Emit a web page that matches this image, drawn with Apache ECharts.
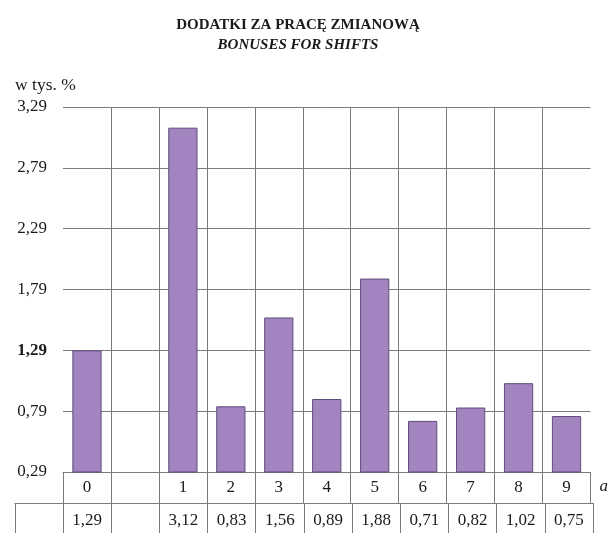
<!DOCTYPE html>
<html>
<head>
<meta charset="utf-8">
<script src="https://cdn.jsdelivr.net/npm/echarts@6/dist/echarts.min.js"></script>
<style>
  html, body { margin: 0; padding: 0; background: #fff; }
  #chart { width: 611px; height: 533px; }
</style>
</head>
<body>
<div id="chart"></div>
<script>
const categories = ['0', '', '1', '2', '3', '4', '5', '6', '7', '8', '9']
const values = [1.29, null, 3.12, 0.83, 1.56, 0.89, 1.88, 0.71, 0.82, 1.02, 0.75]
const yTicks = [0.29, 0.79, 1.29, 1.79, 2.29, 2.79, 3.29]

const fmt = (v) => (v == null ? '' : v.toFixed(2).replace('.', ','))
// second table row: empty header cell + one cell per category
const rowLabels = [''].concat(values.map(fmt))

const serif = 'Liberation Serif'
const ink = '#1a1a1a'
const gridColor = '#7a7a7a'
const fs = 17

const colW = 530 / categories.length

const chart = echarts.init(document.getElementById('chart'))
chart.setOption({
  animation: false,
  textStyle: { fontFamily: serif, color: ink },
  title: {
    text: 'DODATKI ZA PRACĘ ZMIANOWĄ',
    subtext: 'BONUSES FOR SHIFTS',
    left: 293,
    top: 13,
    textAlign: 'center',
    itemGap: 5,
    textStyle: { fontFamily: serif, fontSize: 15, fontWeight: 'bold', color: ink },
    subtextStyle: { fontFamily: serif, fontSize: 15, fontWeight: 'bold', fontStyle: 'italic', color: ink }
  },
  grid: [
    { left: 63, right: 18, top: 107, bottom: 61 },
    { left: 63 - colW, right: 18, top: 503, bottom: 0 }
  ],
  xAxis: [
    {
      type: 'category',
      gridIndex: 0,
      data: categories,
      name: 'a',
      nameLocation: 'end',
      nameGap: 9,
      nameTextStyle: { fontFamily: serif, fontSize: fs, fontStyle: 'italic', color: ink, verticalAlign: 'top', padding: [6, 0, 0, 0] },
      axisLine: { onZero: false, lineStyle: { color: gridColor, width: 1 } },
      axisTick: { show: true, interval: 0, length: 31, lineStyle: { color: gridColor } },
      axisLabel: { interval: 0, margin: 7, fontFamily: serif, fontSize: fs, color: ink },
      splitLine: { show: true, interval: 0, showMinLine: false, showMaxLine: false, lineStyle: { color: gridColor } }
    },
    {
      type: 'category',
      gridIndex: 1,
      position: 'top',
      data: rowLabels,
      axisLine: { onZero: false, lineStyle: { color: gridColor, width: 1 } },
      axisTick: { show: true, inside: true, interval: 0, length: 30, lineStyle: { color: gridColor } },
      axisLabel: { inside: true, interval: 0, margin: 9, fontFamily: serif, fontSize: fs, color: ink },
      splitLine: { show: false }
    }
  ],
  yAxis: [
    {
      type: 'value',
      gridIndex: 0,
      min: yTicks[0],
      max: yTicks[yTicks.length - 1],
      interval: 0.5,
      name: 'w tys. %',
      nameLocation: 'end',
      nameGap: 13,
      nameTextStyle: { fontFamily: serif, fontSize: 17.5, color: ink, align: 'left', padding: [0, 0, 0, -48] },
      axisLine: { show: false },
      axisTick: { show: false },
      axisLabel: {
        margin: 16,
        fontFamily: serif,
        fontSize: fs,
        color: ink,
        formatter: (v) => (Math.abs(v - 1.29) < 1e-6 ? '{b|' + fmt(v) + '}' : fmt(v)),
        rich: { b: { fontFamily: serif, fontSize: fs, fontWeight: 'bold', color: ink } }
      },
      splitLine: { show: true, lineStyle: { color: gridColor } }
    },
    { type: 'value', gridIndex: 1, show: false }
  ],
  series: [
    {
      type: 'bar',
      xAxisIndex: 0,
      yAxisIndex: 0,
      data: values,
      barWidth: '61%',
      itemStyle: { color: '#a284c0', borderColor: '#5e4d7a', borderWidth: 1 }
    }
  ]
})
</script>
</body>
</html>
